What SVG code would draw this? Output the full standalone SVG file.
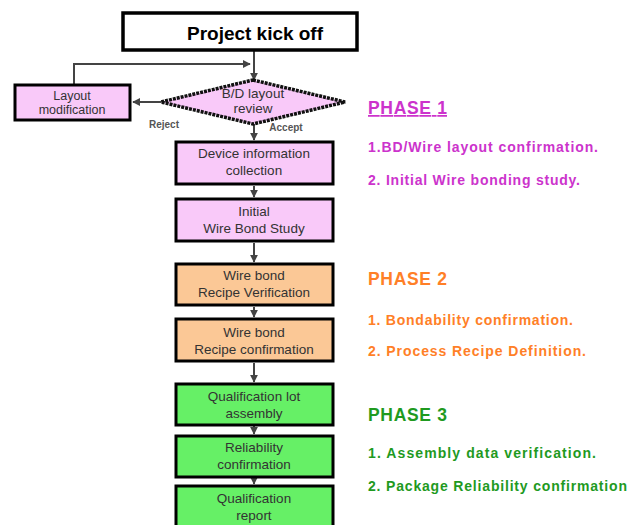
<svg xmlns="http://www.w3.org/2000/svg" width="629" height="525" viewBox="0 0 629 525">
<defs>
<style>
.box{stroke:#000;stroke-width:3}
.pink{fill:#f9c9f9}
.orange{fill:#fbc896}
.green{fill:#66f066}
.lbl{font-family:"Liberation Sans",Arial,sans-serif;font-size:13.5px;fill:#333;text-anchor:middle}
.sm{font-size:12.5px}
.ph{font-family:"Liberation Sans",Arial,sans-serif;font-weight:bold}
.it{font-size:14px}
.hd{font-size:17.5px}
.p1{fill:#cc33cc}
.p2{fill:#ff7f27}
.p3{fill:#1f9a1f}
.con{stroke:#444;stroke-width:2;fill:none}
</style>
<marker id="ah" viewBox="0 0 10 10" refX="9" refY="5" markerWidth="4" markerHeight="4" orient="auto">
<path d="M0,0 L10,5 L0,10 z" fill="#444"/>
</marker>
</defs>
<rect width="629" height="525" fill="#fff"/>
<g id="connectors">
<path class="con" d="M254,51 V80" marker-end="url(#ah)"/>
<path class="con" d="M74,84 V64 H250" marker-end="url(#ah)"/>
<path class="con" d="M161,102 H133" marker-end="url(#ah)"/>
<path class="con" d="M254,124 V140" marker-end="url(#ah)"/>
<path class="con" d="M254,186 V197" marker-end="url(#ah)"/>
<path class="con" d="M254,243 V262" marker-end="url(#ah)"/>
<path class="con" d="M254,307 V317" marker-end="url(#ah)"/>
<path class="con" d="M254,363 V382" marker-end="url(#ah)"/>
<path class="con" d="M254,426 V434" marker-end="url(#ah)"/>
<path class="con" d="M254,478 V484" marker-end="url(#ah)"/>
<text x="164" y="128" font-family="Liberation Sans,Arial,sans-serif" font-size="10" font-weight="bold" fill="#555" text-anchor="middle">Reject</text>
<text x="286" y="131" font-family="Liberation Sans,Arial,sans-serif" font-size="10" font-weight="bold" fill="#555" text-anchor="middle">Accept</text>
</g>
<g id="kickoff">
<rect x="123" y="13" width="234" height="37" fill="#fff" stroke="#000" stroke-width="3.5"/>
<text x="255" y="40" font-family="Liberation Sans,Arial,sans-serif" font-size="19" font-weight="bold" text-anchor="middle" fill="#000" textLength="136">Project kick off</text>
</g>
<g id="review">
<polygon points="253,80 345,102 253,124 161,102" fill="#f9c9f9" stroke="#111" stroke-width="3.5" stroke-dasharray="3 1"/>
<text class="lbl" x="253" y="98">B/D layout</text>
<text class="lbl" x="253" y="113">review</text>
</g>
<g id="layoutmod">
<rect x="15" y="85" width="115" height="35" class="box pink"/>
<text class="lbl sm" x="72" y="100">Layout</text>
<text class="lbl sm" x="72" y="114">modification</text>
</g>
<g id="devinfo">
<rect x="176" y="142" width="157" height="42" class="box pink"/>
<text class="lbl" x="254" y="158">Device information</text>
<text class="lbl" x="254" y="175">collection</text>
</g>
<g id="initial">
<rect x="176" y="199" width="157" height="42" class="box pink"/>
<text class="lbl" x="254" y="216">Initial</text>
<text class="lbl" x="254" y="233">Wire Bond  Study</text>
</g>
<g id="verif">
<rect x="176" y="264" width="157" height="41" class="box orange"/>
<text class="lbl" x="254" y="280">Wire bond</text>
<text class="lbl" x="254" y="297">Recipe Verification</text>
</g>
<g id="confirm">
<rect x="176" y="319" width="157" height="42" class="box orange"/>
<text class="lbl" x="254" y="337">Wire bond</text>
<text class="lbl" x="254" y="354">Recipe confirmation</text>
</g>
<g id="quallot">
<rect x="176" y="384" width="157" height="41" class="box green"/>
<text class="lbl" x="254" y="401">Qualification lot</text>
<text class="lbl" x="254" y="418">assembly</text>
</g>
<g id="reliab">
<rect x="176" y="436" width="157" height="41" class="box green"/>
<text class="lbl" x="254" y="452">Reliability</text>
<text class="lbl" x="254" y="469">confirmation</text>
</g>
<g id="qualrep">
<rect x="176" y="486" width="157" height="45" class="box green"/>
<text class="lbl" x="254" y="503">Qualification</text>
<text class="lbl" x="254" y="520">report</text>
</g>
<g id="phase1">
<text class="ph hd p1" x="368" y="114" text-decoration="underline" textLength="79">PHASE 1</text>
<text class="ph it p1" x="368" y="152" textLength="230">1.BD/Wire layout confirmation.</text>
<text class="ph it p1" x="368" y="185" textLength="212">2. Initial Wire bonding study.</text>
</g>
<g id="phase2">
<text class="ph hd p2" x="368" y="285" textLength="79">PHASE 2</text>
<text class="ph it p2" x="368" y="325" textLength="205">1. Bondability confirmation.</text>
<text class="ph it p2" x="368" y="356" textLength="218">2. Process Recipe Definition.</text>
</g>
<g id="phase3">
<text class="ph hd p3" x="368" y="421" textLength="79">PHASE 3</text>
<text class="ph it p3" x="368" y="458" textLength="228">1. Assembly data verification.</text>
<text class="ph it p3" x="368" y="491" textLength="259">2. Package Reliability confirmation</text>
</g>
</svg>
